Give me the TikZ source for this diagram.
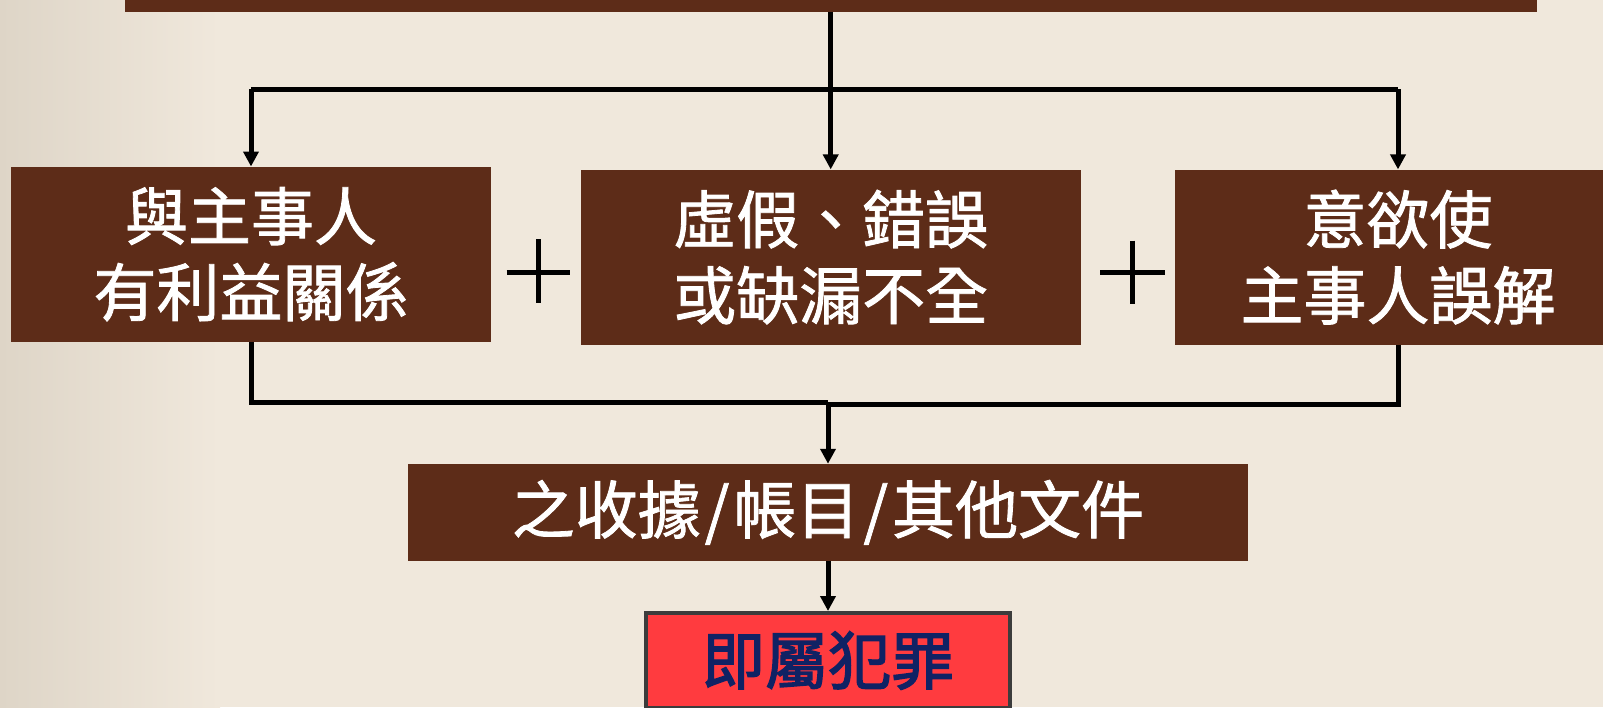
\documentclass[tikz,border=0pt]{standalone}
\usepackage{fontspec}
\newfontfamily\cjk[FakeBold=1.3]{Noto Sans CJK TC}
\newfontfamily\cjkred[FakeBold=2.2]{Noto Sans CJK TC}
\usetikzlibrary{arrows.meta}
\definecolor{bg}{RGB}{240,232,220}
\definecolor{bgdark}{RGB}{222,213,199}
\definecolor{brownbox}{RGB}{93,44,24}
\definecolor{redbox}{RGB}{255,59,63}
\definecolor{redborder}{RGB}{60,60,60}
\definecolor{navy}{RGB}{16,34,100}
\begin{document}
\begin{tikzpicture}[x=1pt,y=-1pt,
  box/.style={rectangle, fill=brownbox, text=white, inner sep=0pt, align=center,
    font=\cjk\fontsize{63}{76}\selectfont},
  conn/.style={line width=5pt, draw=black, line join=miter},
  arr/.style={conn, -{Triangle[width=15pt,length=15pt]}},
  plus/.style={line width=5.5pt, draw=black},
]
\useasboundingbox (0,0) rectangle (1603,707);
\fill[bg] (0,0) rectangle (1603,707);
\shade[left color=bgdark, right color=bg] (0,0) rectangle (220,707);

% boxes
\node[box, minimum width=1412pt, minimum height=80pt] (top) at (830.7,-28.3) {};
\node[box, minimum width=480pt, minimum height=175pt] (left) at (251,254.2) {與主事人\\有利益關係};
\node[box, minimum width=500pt, minimum height=175pt] (mid) at (830.7,257.1) {虛假、錯誤\\或缺漏不全};
\node[box, minimum width=446pt, minimum height=175pt] (right) at (1398,257.1) {意欲使\\主事人誤解};
\node[box, minimum width=840pt, minimum height=96.7pt] (bot) at (828,512.3) {之收據\kern4pt/\kern4pt帳目\kern4pt/\kern4pt其他文件};
\node[rectangle, draw=redborder, line width=4pt, fill=redbox, text=navy, inner sep=0pt,
  font=\cjkred\fontsize{63}{76}\selectfont,
  minimum width=364pt, minimum height=95pt] (red) at (828,660.5) {即屬犯罪};

% plus signs
\draw[plus] (506.6,272.3) -- (570.4,272.3) (538.5,239.3) -- (538.5,303.3);
\draw[plus] (1100,272.7) -- (1164.6,272.7) (1132.3,240.7) -- (1132.3,304.3);

% connectors
\coordinate (jt) at (831,89);
\coordinate (jb1) at (828,402.5);
\coordinate (jb2) at (828,404);
\draw[arr] (mid.north |- top.south) -- (mid.north);
\draw[conn] (left.north |- jt) -- (right.north |- jt);
\draw[arr] (left.north |- jt) -- (left.north);
\draw[arr] (right.north |- jt) -- (right.north);
\draw[conn] (left.south) -- (left.south |- jb1) -- (jb1);
\draw[conn] (right.south) -- (right.south |- jb2) -- (jb2);
\draw[arr] (jb1) -- (bot.north);
\draw[arr] (bot.south) -- (red.north);
\end{tikzpicture}
\end{document}
